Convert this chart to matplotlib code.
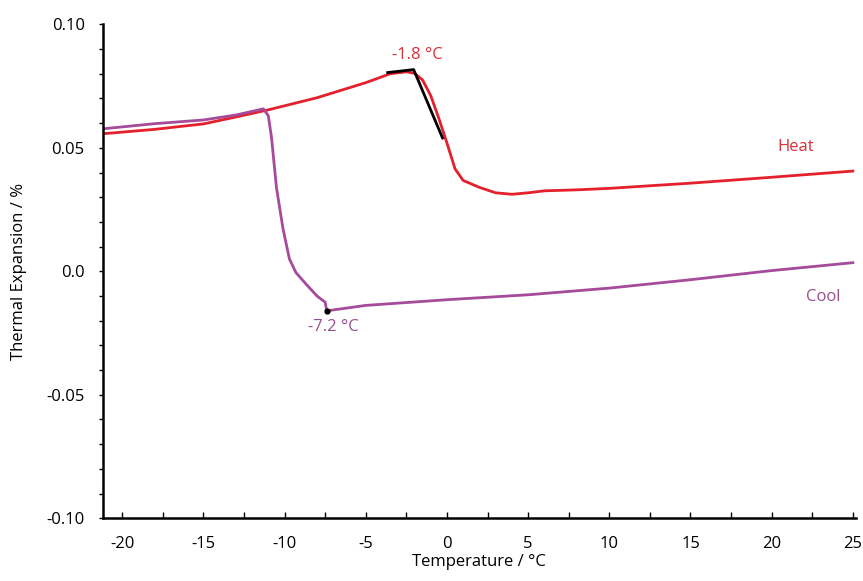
import matplotlib.pyplot as plt
import numpy as np
from matplotlib.ticker import MultipleLocator

plt.rcParams['font.family'] = ['Open Sans', 'DejaVu Sans']
plt.rcParams['axes.unicode_minus'] = False

# heating curve (red)
heat_t = [-21.2, -18, -15, -13, -11, -8, -5, -3.5, -2.5, -2.0, -1.5, -1.0, -0.5, 0.0,
          0.5, 1.0, 2.0, 3.0, 4.0, 5.0, 6.0, 8.0, 10, 15, 20, 25]
heat_y = [0.0557, 0.0575, 0.0597, 0.0625, 0.0654, 0.0703, 0.0764, 0.0800, 0.0808, 0.0802,
          0.0775, 0.0712, 0.0620, 0.0520, 0.0415, 0.0368, 0.0340, 0.0318, 0.0312, 0.0318,
          0.0326, 0.0330, 0.0336, 0.0357, 0.0381, 0.0406]

# cooling curve (purple)
cool_t = [-21.2, -18, -15, -13, -11.3, -11.0, -10.8, -10.5, -10.1, -9.7, -9.3, -8.7,
          -8.0, -7.5, -7.4, -5, 0, 5, 10, 15, 20, 25]
cool_y = [0.0577, 0.0598, 0.0613, 0.0633, 0.0658, 0.0630, 0.0540, 0.0340, 0.0174, 0.0050,
          -0.0005, -0.0050, -0.0100, -0.0125, -0.0160, -0.0138, -0.0115, -0.0095, -0.0068,
          -0.0034, 0.0003, 0.0035]

# onset tangents
tan_t = [-3.65, -2.05, -0.27]
tan_y = [0.0805, 0.0817, 0.0540]
onset_cool = (-7.4, -0.016)

red = '#e3202b'
purple = '#a64a9c'

fig = plt.figure(figsize=(8.63, 5.81), dpi=100)
ax = fig.add_axes([0.119, 0.108, 0.873, 0.85])

ax.plot(heat_t, heat_y, color=red, lw=2.0)
ax.plot(cool_t, cool_y, color=purple, lw=2.0)
ax.plot(tan_t, tan_y, color='black', lw=2.0)
ax.plot(*onset_cool, 'o', color='black', ms=3.5)

ax.text(-1.8, 0.0845, '-1.8 °C', color='#d8303a', fontsize=12, ha='center', va='bottom')
ax.text(-7.0, -0.0195, '-7.2 °C', color='#9a4e90', fontsize=12, ha='center', va='top')
ax.text(21.5, 0.0505, 'Heat', color='#d8303a', fontsize=12, ha='center', va='center')
ax.text(23.2, -0.0105, 'Cool', color='#9a4e90', fontsize=12, ha='center', va='center')

ax.set_xlim(-21.2, 25.2)
ax.set_ylim(-0.10, 0.10)
ax.set_xticks(np.arange(-20, 26, 5))
ax.xaxis.set_minor_locator(MultipleLocator(2.5))
ax.set_yticks([-0.10, -0.05, 0.0, 0.05, 0.10])
ax.set_yticklabels(['-0.10', '-0.05', '0.0', '0.05', '0.10'])
ax.yaxis.set_minor_locator(MultipleLocator(0.01))

ax.spines['top'].set_visible(False)
ax.spines['right'].set_visible(False)
ax.spines['left'].set_linewidth(1.8)
ax.spines['bottom'].set_linewidth(1.8)
ax.tick_params(axis='x', which='both', direction='in', length=4, width=1, labelsize=12, pad=13)
ax.tick_params(axis='y', which='both', direction='out', length=3, width=1, labelsize=12, pad=10)

ax.set_xlabel('Temperature / °C', fontsize=12, labelpad=1)
ax.set_ylabel('Thermal Expansion / %', fontsize=12, labelpad=14)

fig.savefig('out.png', dpi=100)
